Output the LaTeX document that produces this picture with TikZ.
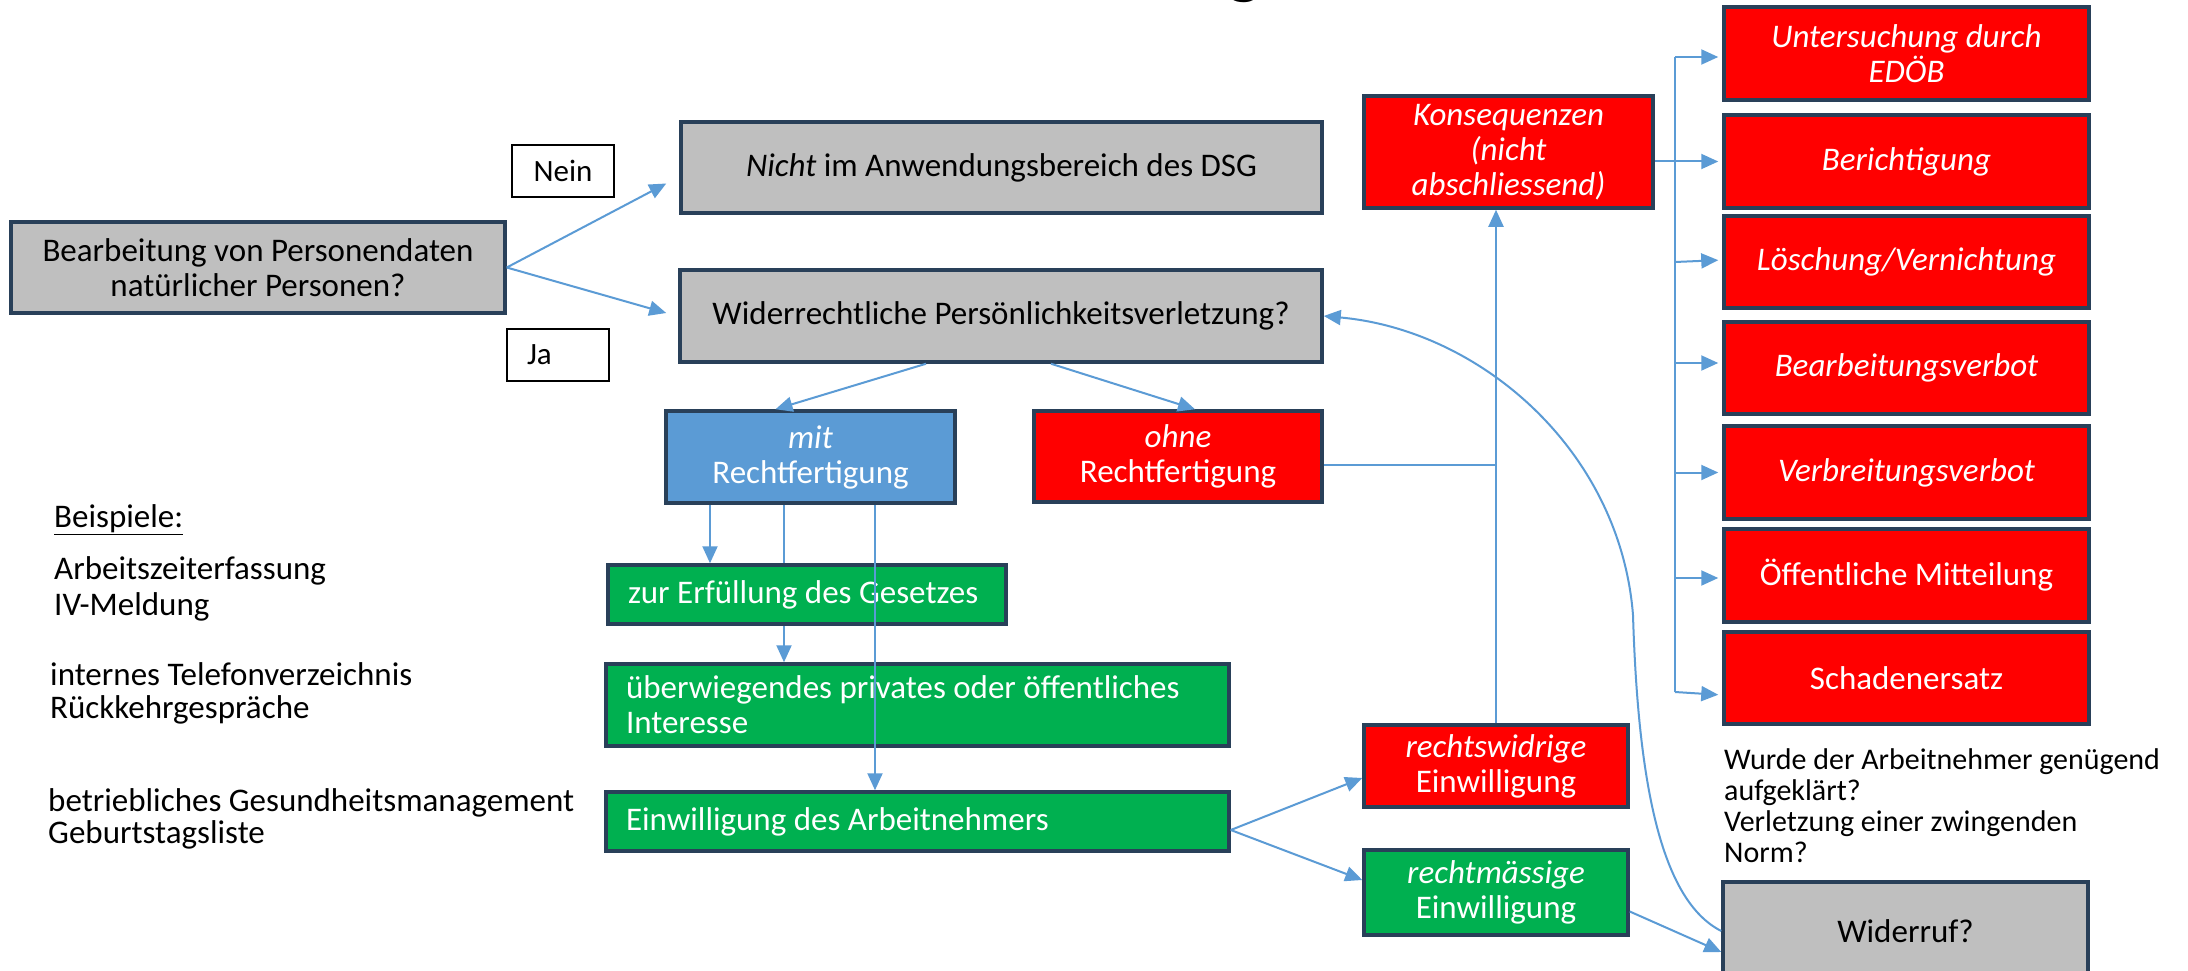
\documentclass[tikz,border=0pt]{standalone}
\usepackage{fontspec}
\setmainfont{Carlito}
\usetikzlibrary{arrows.meta,calc}
\definecolor{boxgray}{HTML}{BFBFBF}
\definecolor{boxred}{HTML}{FF0000}
\definecolor{boxgreen}{HTML}{00B050}
\definecolor{boxblue}{HTML}{5B9BD5}
\definecolor{lineblue}{HTML}{5B9BD5}
\definecolor{bord}{RGB}{41,64,89}
\newcommand\mainfs{\fontsize{33}{35}\selectfont}
\newcommand\smallfs{\fontsize{30}{31}\selectfont}
\begin{document}
\begin{tikzpicture}[x=1pt,y=-1pt,
  box/.style={draw=bord, line width=3.5pt, inner sep=0pt, align=center, font=\mainfs},
  graybox/.style={box, fill=boxgray, text=black},
  redbox/.style={box, fill=boxred, text=white},
  greenbox/.style={box, fill=boxgreen, text=white, align=flush left, inner xsep=20pt},
  bluebox/.style={box, fill=boxblue, text=white},
  labbox/.style={draw=black, line width=2pt, fill=white, inner sep=0pt, font=\fontsize{31}{33}\selectfont, minimum width=102pt, minimum height=52pt},
  plain/.style={inner sep=0pt, align=left, anchor=west, font=\mainfs, text=black},
  ln/.style={draw=lineblue, line width=2pt},
  arr/.style={ln, -{Triangle[length=17pt,width=15pt]}}
]
\useasboundingbox (0,0) rectangle (2188,971);
\fill[white] (0,0) rectangle (2188,971);

% partial title letter
\node[font=\fontsize{72}{72}\selectfont\bfseries, anchor=base, inner sep=0pt] (ttl) at (1245,-9) {g};

% left part
\node[graybox, minimum width=494pt, minimum height=91pt] (bear) at (258,267.5) {Bearbeitung von Personendaten\\natürlicher Personen?};
\node[labbox] (nein) at (563,171) {Nein};
\node[labbox, text width=62pt, align=flush left, inner xsep=20pt] (ja) at (558,355) {Ja};

\node[graybox, minimum width=641pt, minimum height=91pt] (nicht) at (1001.5,167.5) {\textit{Nicht} im Anwendungsbereich des DSG};
\node[graybox, minimum width=642pt, minimum height=92pt] (wider) at (1001,316) {Widerrechtliche Persönlichkeitsverletzung?};

\node[bluebox, minimum width=289pt, minimum height=92pt] (mit) at (810.5,457) {\textit{mit}\\Rechtfertigung};
\node[redbox, minimum width=288pt, minimum height=91pt] (ohne) at (1178,456.5) {\textit{ohne}\\Rechtfertigung};

\node[greenbox, text width=583pt, minimum height=82pt] (ueber) at (917.5,705) {überwiegendes privates oder öffentliches\\Interesse};
\node[greenbox, text width=583pt, minimum height=59pt] (einw) at (917.5,821.5) {Einwilligung des Arbeitnehmers};

\coordinate (m1) at ([xshift=-100.5pt]mit.south);
\coordinate (m2) at ([xshift=-26.5pt]mit.south);
\coordinate (m3) at ([xshift=64.5pt]mit.south);
% this connector runs behind the first green box
\draw[arr] (m2) -- (m2 |- ueber.north);

\node[greenbox, text width=358pt, minimum height=59pt] (zur) at (807,594.5) {zur Erfüllung des Gesetzes};

% examples
\node[plain] (beisp) at (54,520) {\underline{Beispiele:}};
\node[plain, font=\fontsize{33}{36}\selectfont] (ex1) at (54,589) {Arbeitszeiterfassung\\IV-Meldung};
\node[plain, font=\fontsize{33}{33}\selectfont] (ex2) at (50,693.5) {internes Telefonverzeichnis\\Rückkehrgespräche};
\node[plain, font=\fontsize{33}{32}\selectfont] (ex3) at (48,819) {betriebliches Gesundheitsmanagement\\Geburtstagsliste};

% consequences
\node[redbox, font=\mainfs\itshape, minimum width=289pt, minimum height=112pt] (kons) at (1508.5,152) {Konsequenzen\\(nicht\\abschliessend)};
\node[redbox, minimum width=264pt, minimum height=82pt] (rw) at (1496,766) {\textit{rechtswidrige}\\Einwilligung};
\node[greenbox, align=center, inner xsep=0pt, minimum width=264pt, minimum height=85pt] (rm) at (1496,892.5) {\textit{rechtmässige}\\Einwilligung};

\node[redbox, font=\mainfs\itshape, minimum width=365pt, minimum height=93pt] (unt) at (1906.5,53.5) {Untersuchung durch\\EDÖB};
\node[redbox, font=\mainfs\itshape, minimum width=365pt, minimum height=93pt] (ber) at (1906.5,161.5) {Berichtigung};
\node[redbox, font=\mainfs\itshape, minimum width=365pt, minimum height=92pt] (loe) at (1906.5,262) {Löschung/Vernichtung};
\node[redbox, font=\mainfs\itshape, minimum width=365pt, minimum height=92pt] (bv) at (1906.5,368) {Bearbeitungsverbot};
\node[redbox, font=\mainfs\itshape, minimum width=365pt, minimum height=93pt] (vv) at (1906.5,472.5) {Verbreitungsverbot};
\node[redbox, minimum width=365pt, minimum height=93pt] (oeff) at (1906.5,575.5) {Öffentliche Mitteilung};
\node[redbox, minimum width=365pt, minimum height=92pt] (sch) at (1906.5,678) {Schadenersatz};

\node[plain, font=\smallfs] (frage) at (1724,806) {Wurde der Arbeitnehmer genügend\\aufgeklärt?\\Verletzung einer zwingenden\\Norm?};
\node[graybox, minimum width=365pt, minimum height=98pt] (wid) at (1905.5,931) {Widerruf?};

% connectors
\draw[arr] (bear.east) -- ([xshift=-13pt,yshift=-16pt]nicht.west);
\draw[arr] (bear.east) -- ([xshift=-12pt,yshift=3pt]wider.west);

\draw[arr] ([xshift=-75pt]wider.south) -- ([xshift=-35pt]mit.north);
\draw[arr] ([xshift=50pt]wider.south) -- ([xshift=17pt]ohne.north);

\draw[arr] (m1) -- (m1 |- zur.north);
\draw[arr] (m3) -- (m3 |- einw.north);

\draw[arr] ([yshift=-8.5pt]einw.east) -- ([yshift=-12pt]rw.west);
\draw[arr] ([yshift=-8.5pt]einw.east) -- ([yshift=12.5pt]rm.west);
\draw[arr] ([yshift=-19pt]rm.east) -- ([yshift=-21pt]wid.west);

\coordinate (oj) at ([yshift=-8.5pt]ohne.east);
\draw[ln] (oj) -- (oj -| rw.north);
\draw[arr] (rw.north) -- (rw.north |- kons.south);

\coordinate (bus) at (1675,0);
\coordinate (bt) at (1675,57);
\coordinate (bb) at (1675,692);
\draw[ln] (bt) -- (bb);
\draw[arr, shorten >=4pt] ([yshift=-9.5pt]kons.east) -- (ber.west);
\draw[arr, shorten >=4pt] (bt) -- (bt -| unt.west);
\draw[arr, shorten >=4pt] (bus |- loe.west) -- ([yshift=2pt]loe.west);
\draw[arr, shorten >=4pt] ([yshift=5pt]bus |- bv.west) -- ([yshift=5pt]bv.west);
\draw[arr, shorten >=4pt] (bus |- vv.west) -- (vv.west);
\draw[arr, shorten >=4pt] ([yshift=-2.5pt]bus |- oeff.west) -- ([yshift=-2.5pt]oeff.west);
\draw[arr, shorten >=4pt] (bb) -- ([yshift=-17pt]sch.west);

\draw[arr] (wid.west) .. controls (1660,900) and (1638,780) .. (1633,615) .. controls (1620,450) and (1480,330) .. (wider.east);
\end{tikzpicture}
\end{document}
